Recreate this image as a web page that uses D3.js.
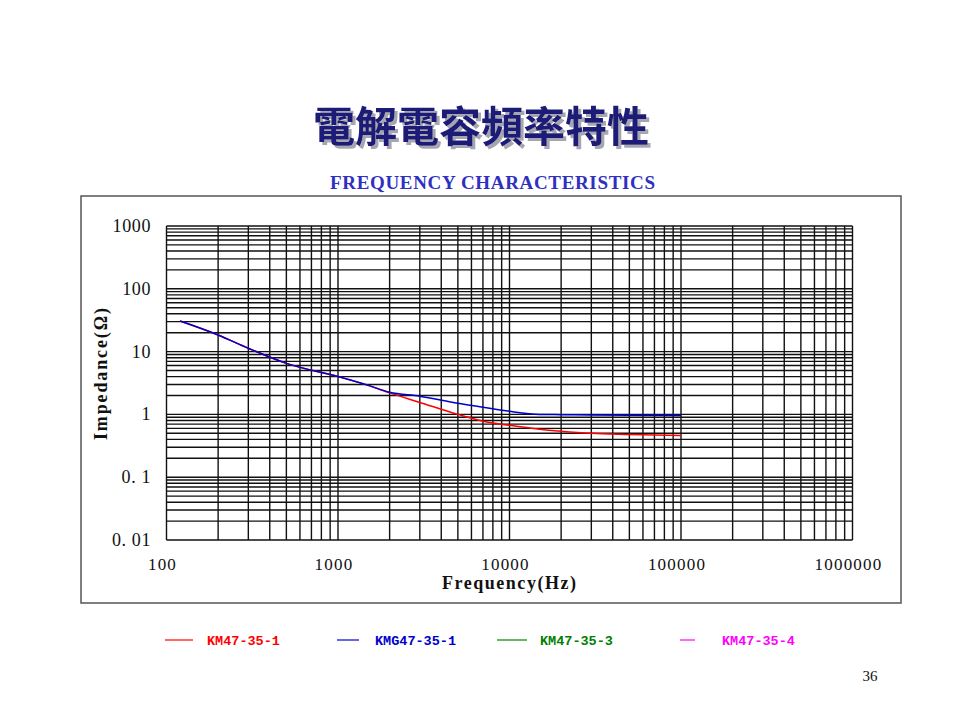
<!DOCTYPE html>
<html lang="zh-Hant">
<head>
<meta charset="UTF-8">
<title>電解電容頻率特性</title>
<script src="https://cdnjs.cloudflare.com/ajax/libs/d3/7.8.5/d3.min.js"></script>
<style>
  body { margin: 0; background: #fff; }
  svg { display: block; }
</style>
</head>
<body>
<svg id="chart" width="960" height="720"></svg>
<script>
// data
const freq = [120, 200, 300, 500, 1000, 1500, 2000, 3000, 5000, 7000, 10000, 15000, 20000, 30000, 50000, 100000];
const km47_1 = [30.7, 18.4, 11.3, 6.5, 4.0, 2.9, 2.2, 1.55, 1.0, 0.78, 0.67, 0.58, 0.54, 0.5, 0.48, 0.46];
const kmg47_1 = [30.7, 18.4, 11.3, 6.5, 4.0, 2.9, 2.25, 1.95, 1.5, 1.3, 1.12, 1.0, 0.99, 0.98, 0.97, 0.96];
const seriesNames = ["KM47-35-1", "KMG47-35-1", "KM47-35-3", "KM47-35-4"];
const seriesColors = ["#ff0000", "#0000cc", "#008000", "#ff00ff"];
const xTicks = [100, 1000, 10000, 100000, 1000000];
const yTicks = [1000, 100, 10, 1, 0.1, 0.01];
const yTickLabels = ["1000", "100", "10", "1", "0. 1", "0. 01"];

const svg = d3.select("#chart");

// title shadow as a filter
svg.append("defs").append("filter").attr("id", "shadow")
  .attr("x", "-5%").attr("y", "-20%").attr("width", "115%").attr("height", "150%")
  .append("feDropShadow").attr("dx", 3).attr("dy", 3).attr("stdDeviation", 0.6)
  .attr("flood-color", "#9090a0").attr("flood-opacity", 0.8);

svg.append("text").attr("x", 481).attr("y", 142).attr("text-anchor", "middle")
  .attr("font-family", "Noto Sans CJK TC").attr("font-weight", "bold").attr("font-size", 42)
  .attr("fill", "#1c1c78").attr("filter", "url(#shadow)").text("電解電容頻率特性");

svg.append("text").attr("x", 330).attr("y", 189)
  .attr("textLength", 325).attr("lengthAdjust", "spacing")
  .attr("font-family", "Liberation Serif").attr("font-weight", "bold").attr("font-size", 19)
  .attr("fill", "#3030c0").text("FREQUENCY CHARACTERISTICS");

// outer frame
svg.append("rect").attr("x", 81).attr("y", 196).attr("width", 820).attr("height", 407)
  .attr("fill", "none").attr("stroke", "#555").attr("stroke-width", 1.5);

const x = d3.scaleLog().domain([100, 1000000]).range([166.5, 852.5]);
const y = d3.scaleLog().domain([0.01, 1000]).range([540, 226]);

// log grid
const g = svg.append("g");
const xGrid = [];
for (let d = 100; d < 1000000; d *= 10) for (let k = 1; k < 10; k++) xGrid.push(d * k);
xGrid.push(1000000);
const yGrid = [];
for (let d = 0.01; d < 999; d *= 10) for (let k = 1; k < 10; k++) yGrid.push(+(d * k).toPrecision(3));
yGrid.push(1000);

g.selectAll("line.v").data(xGrid).join("line").attr("class", "v")
  .attr("x1", d => x(d)).attr("x2", d => x(d)).attr("y1", y(1000)).attr("y2", y(0.01))
  .attr("stroke", "#111").attr("stroke-width", 1.4);
g.selectAll("line.h").data(yGrid).join("line").attr("class", "h")
  .attr("x1", x(100)).attr("x2", x(1000000)).attr("y1", d => y(d)).attr("y2", d => y(d))
  .attr("stroke", "#111").attr("stroke-width", 1.4);

// tick labels
svg.append("g").selectAll("text").data(yTicks).join("text")
  .attr("x", 151).attr("y", d => y(d) + 6).attr("text-anchor", "end")
  .attr("font-family", "Liberation Serif").attr("font-size", 18).attr("letter-spacing", 0.6)
  .attr("fill", "#111").text((d, i) => yTickLabels[i]);
svg.append("g").selectAll("text").data(xTicks).join("text")
  .attr("x", d => x(d) - 4).attr("y", 570).attr("text-anchor", "middle")
  .attr("font-family", "Liberation Serif").attr("font-size", 17).attr("letter-spacing", 1.2)
  .attr("fill", "#111").text(d => d3.format("d")(d));

svg.append("text").attr("x", 442).attr("y", 589)
  .attr("textLength", 134).attr("lengthAdjust", "spacing")
  .attr("font-family", "Liberation Serif").attr("font-weight", "bold").attr("font-size", 18)
  .attr("fill", "#111").text("Frequency(Hz)");
svg.append("text").attr("transform", "translate(107,440) rotate(-90)")
  .attr("textLength", 132).attr("lengthAdjust", "spacing")
  .attr("font-family", "Liberation Serif").attr("font-weight", "bold").attr("font-size", 18)
  .attr("fill", "#111").text("Impedance(Ω)");

// curves
const line = d3.line().x(d => x(d[0])).y(d => y(d[1])).curve(d3.curveMonotoneX);
[[km47_1, 0], [kmg47_1, 1]].forEach(([vals, i]) => {
  svg.append("path").datum(freq.map((f, j) => [f, vals[j]]))
    .attr("d", line).attr("fill", "none").attr("stroke", seriesColors[i]).attr("stroke-width", 1.5);
});

// legend
const legX = [165, 337, 497, 680];
const legLen = [28, 22, 30, 15];
const legTextX = [207, 375, 540, 722];
const leg = svg.append("g");
seriesNames.forEach((n, i) => {
  leg.append("line").attr("x1", legX[i]).attr("x2", legX[i] + legLen[i]).attr("y1", 640).attr("y2", 640)
    .attr("stroke", seriesColors[i]).attr("stroke-width", 1.2);
  leg.append("text").attr("x", legTextX[i]).attr("y", 645)
    .attr("font-family", "Liberation Mono").attr("font-weight", "bold").attr("font-size", 13.5)
    .attr("fill", seriesColors[i]).text(n);
});

svg.append("text").attr("x", 870).attr("y", 681).attr("text-anchor", "middle")
  .attr("font-family", "Liberation Serif").attr("font-size", 15).attr("fill", "#111").text("36");
</script>
</body>
</html>
